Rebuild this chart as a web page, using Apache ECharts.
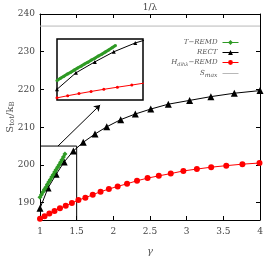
<!DOCTYPE html>
<html><head><meta charset="utf-8">
<script src="https://cdn.jsdelivr.net/npm/echarts@6/dist/echarts.min.js"></script>
<style>html,body{margin:0;padding:0;background:#fff}#c{width:264px;height:256px}</style>
</head><body><div id="c"></div>
<script>
// gamma values and entropies
const tremdX = [1.00,1.02,1.04,1.06,1.08,1.10,1.12,1.14,1.16,1.18,1.20,1.22,1.24,1.26,1.28,1.30,1.32,1.34];
const tremdY = [191.4,192.1,192.8,193.5,194.1,194.8,195.5,196.1,196.8,197.4,198.1,198.7,199.4,200.0,200.7,201.4,202.1,202.9];
const rectX = [1.00,1.11,1.22,1.33,1.455,1.59,1.75,1.91,2.10,2.30,2.51,2.75,3.04,3.33,3.65,4.00];
const rectY = [188.5,193.9,197.5,200.8,203.7,206.0,208.2,210.1,212.0,213.5,214.8,216.1,217.1,218.1,219.0,219.7];
const hdihX = [1.000,1.062,1.128,1.198,1.272,1.351,1.435,1.524,1.619,1.719,1.826,1.939,2.059,2.187,2.323,2.467,2.620,2.783,2.955,3.139,3.334,3.540,3.760,3.993];
const hdihY = [185.7,186.4,187.1,187.8,188.5,189.2,189.9,190.7,191.3,192.1,192.9,193.6,194.3,195.0,195.8,196.5,197.1,197.7,198.4,198.9,199.4,199.8,200.2,200.5];
const sMax = 236.8;
const xTicks = [1,1.5,2,2.5,3,3.5,4];
const yTicks = [190,200,210,220,230,240];
const zoomBox = {x0:1, x1:1.5, y0:185.4, y1:205};
const arrowFrom = [1.245,205], arrowTo = [1.82,215.9];

const pairs = (xs, ys) => xs.map((x,i)=>[x, ys[i]]);
const serif = 'DejaVu Serif';
const GREEN = '#2f9a25', RED = '#ff0000', GRAY = '#b8b8b8';

const chart = echarts.init(document.getElementById('c'), null, {renderer:'canvas'});
chart.setOption({
  animation:false,
  backgroundColor:'#fff',
  grid:[
    {left:40, right:4, top:14, bottom:36, outerBoundsMode:'none', containLabel:false},
    {left:57, top:39, width:86, height:61, show:true, backgroundColor:'#fff', borderColor:'#000', borderWidth:1.5, z:5, outerBoundsMode:'none', containLabel:false}
  ],
  legend:{
    data:['T-REMD','RECT','Hdih',{name:'Smax', itemStyle:{opacity:0}}],
    orient:'vertical', right:20, top:34, align:'right',
    itemWidth:16, itemHeight:6, itemGap:3,
    lineStyle:{width:1},
    textStyle:{fontFamily:serif, fontSize:7, fontStyle:'italic', color:'#555',
      rich:{
        it:{fontFamily:serif, fontSize:7, fontStyle:'italic', color:'#555'},
        sub:{fontFamily:serif, fontSize:5, fontStyle:'italic', color:'#555', verticalAlign:'bottom', padding:[4,0,0,0]},
        rm:{fontFamily:serif, fontSize:6, color:'#555', padding:[4,0,0,0]}
      }},
    formatter: n => n==='Hdih' ? '{it|H}{sub|dihλ}{it|−REMD}' : n==='Smax' ? '{it|S}{rm|max}' : n==='T-REMD' ? '{it|T−REMD}' : '{it|'+n+'}'
  },
  xAxis:[
    {type:'value', gridIndex:0, min:xTicks[0], max:xTicks[xTicks.length-1], interval:0.5, position:'bottom',
     name:'γ', nameLocation:'middle', nameGap:26, nameMoveOverlap:false, nameTextStyle:{fontFamily:serif, fontSize:10, fontStyle:'italic', color:'#555'},
     axisLine:{lineStyle:{color:'#000', width:1}}, axisTick:{inside:true, length:4, lineStyle:{color:'#000'}},
     axisLabel:{fontFamily:serif, fontSize:9, color:'#444', margin:7}, splitLine:{show:false}},
    {type:'value', gridIndex:0, min:1, max:4, interval:0.5, position:'top',
     name:'1/λ', nameLocation:'middle', nameGap:2, nameMoveOverlap:false, nameTextStyle:{fontFamily:serif, fontSize:9, color:'#444'},
     axisLine:{lineStyle:{color:'#000', width:1}}, axisTick:{inside:true, length:4, lineStyle:{color:'#000'}},
     axisLabel:{show:false}, splitLine:{show:false}},
    {type:'value', gridIndex:1, min:zoomBox.x0, max:zoomBox.x1, show:false}
  ],
  yAxis:[
    {type:'value', gridIndex:0, min:zoomBox.y0, max:yTicks[yTicks.length-1], position:'left',
     name:'{a|S}{s|tot}{a|/k}{s|B}', nameLocation:'middle', nameGap:24, nameMoveOverlap:false,
     nameTextStyle:{rich:{a:{fontFamily:serif, fontSize:10, color:'#555'}, s:{fontFamily:serif, fontSize:7, color:'#555', padding:[5,0,0,0]}}},
     axisLine:{show:true, lineStyle:{color:'#000', width:1}},
     axisTick:{inside:true, length:4, customValues:yTicks, lineStyle:{color:'#000'}},
     axisLabel:{fontFamily:serif, fontSize:9, color:'#444', margin:5, customValues:yTicks}, splitLine:{show:false}},
    {type:'value', gridIndex:0, min:zoomBox.y0, max:yTicks[yTicks.length-1], position:'right',
     axisLine:{show:true, lineStyle:{color:'#000', width:1}},
     axisTick:{inside:true, length:4, customValues:yTicks, lineStyle:{color:'#000'}},
     axisLabel:{show:false}, splitLine:{show:false}},
    {type:'value', gridIndex:1, min:185, max:205, show:false}
  ],
  series:[
    {name:'T-REMD', type:'line', xAxisIndex:0, yAxisIndex:0, data:pairs(tremdX,tremdY), z:4,
     symbol:'diamond', symbolSize:5, itemStyle:{color:GREEN}, lineStyle:{color:GREEN, width:1.5}},
    {name:'RECT', type:'line', xAxisIndex:0, yAxisIndex:0, data:pairs(rectX,rectY), z:3,
     symbol:'triangle', symbolSize:7, itemStyle:{color:'#000'}, lineStyle:{color:'#000', width:1}},
    {name:'Hdih', type:'line', xAxisIndex:0, yAxisIndex:0, data:pairs(hdihX,hdihY), z:3,
     symbol:'circle', symbolSize:6, itemStyle:{color:RED}, lineStyle:{color:RED, width:1}},
    {name:'Smax', type:'line', xAxisIndex:0, yAxisIndex:0, data:[[xTicks[0],sMax],[xTicks[xTicks.length-1],sMax]],
     symbol:'none', lineStyle:{color:GRAY, width:1}, itemStyle:{color:GRAY}},
    {name:'box', type:'line', xAxisIndex:0, yAxisIndex:0, z:2,
     data:[[zoomBox.x0,zoomBox.y1],[zoomBox.x1,zoomBox.y1],[zoomBox.x1,zoomBox.y0]],
     symbol:'none', lineStyle:{color:'#000', width:1},
     markLine:{silent:true, symbol:['none','arrow'], symbolSize:6, label:{show:false},
       lineStyle:{color:'#000', width:1, type:'solid'},
       data:[[{coord:arrowFrom},{coord:arrowTo}]]}},
    {name:'g2', type:'line', xAxisIndex:2, yAxisIndex:2, data:pairs(tremdX,tremdY), z:8,
     symbol:'circle', symbolSize:3, itemStyle:{color:GREEN}, lineStyle:{color:GREEN, width:3}},
    {name:'b2', type:'line', xAxisIndex:2, yAxisIndex:2, data:pairs(rectX,rectY), z:7,
     symbol:'triangle', symbolSize:4, itemStyle:{color:'#000'}, lineStyle:{color:'#000', width:1}},
    {name:'r2', type:'line', xAxisIndex:2, yAxisIndex:2, data:pairs(hdihX,hdihY), z:7,
     symbol:'circle', symbolSize:3, itemStyle:{color:RED}, lineStyle:{color:RED, width:1}}
  ]
});
</script></body></html>
